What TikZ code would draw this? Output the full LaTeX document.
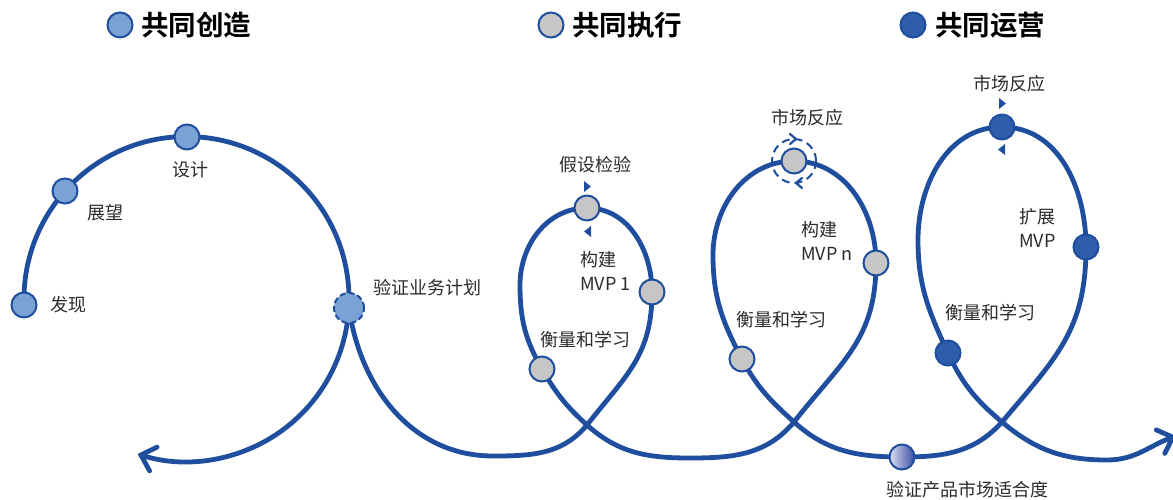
\documentclass[tikz,border=0pt]{standalone}
\usepackage{fontspec}
\setmainfont{Noto Sans CJK SC}[BoldFont={Noto Sans CJK SC Bold}]
\usetikzlibrary{arrows.meta}
\definecolor{mainblue}{HTML}{1F4E9F}
\definecolor{lightfill}{HTML}{7AA2D5}
\definecolor{grayfill}{HTML}{C6C6C6}
\definecolor{darkfill}{HTML}{2E5DAA}
\definecolor{gradL}{HTML}{DCDDF2}
\definecolor{gradR}{HTML}{3C4FA3}
\definecolor{txt}{HTML}{2B2B2B}
\begin{document}
\begin{tikzpicture}[x=1pt,y=1pt,
 curve/.style={draw=mainblue, line width=4.8pt, line cap=round},
 barb/.style={-{Straight Barb[length=13pt,width=25pt,line cap=round]}},
 dot/.style={circle, draw=mainblue, line width=2pt, minimum size=25pt, inner sep=0pt},
 dotL/.style={dot, fill=lightfill},
 dotG/.style={dot, fill=grayfill},
 dotD/.style={dot, fill=darkfill},
 lbl/.style={font=\fontsize{18}{24}\selectfont, text=txt, inner sep=0pt, anchor=west, align=left},
 ttl/.style={font=\fontsize{27.5}{30}\selectfont\bfseries, text=black, inner sep=0pt, anchor=west},
 tri/.style={fill=mainblue},
 ring/.style={draw=mainblue, line width=2pt, dash pattern=on 8pt off 5pt},
 chev/.style={draw=mainblue, line width=2.2pt, line cap=round, line join=round},
]
\useasboundingbox (0,0) rectangle (1173,-499);

% key points of the path
\coordinate (v1) at (493,-456);
\coordinate (c1) at (587,-425);
\coordinate (l1) at (520,-285);
\coordinate (v2) at (690,-458);
\coordinate (c2) at (794,-422);
\coordinate (l2) at (713,-255);
\coordinate (c3) at (1002,-422);
\coordinate (l3) at (918,-240);
\coordinate (v4) at (1107,-460);
\coordinate (endpt) at (1176,-436);

% big circle
\draw[curve, barb] (24.1,-304.7) arc[start angle=182, end angle=-107.5, radius=162.5];

% loops
\draw[curve, barb] (349,-308) to[out=-82,in=180] (v1)
 to[out=0,in=230] (c1)
 to[out=52,in=-90,looseness=1.1] (652,-292)
 to[out=90,in=0] (587,-208)
 to[out=180,in=90] (l1)
 to[out=-90,in=120] (542,-369)
 to[out=-60,in=138] (c1)
 to[out=-42,in=180] (v2)
 to[out=0,in=230] (c2)
 to[out=52,in=-90,looseness=1.1] (876,-263)
 to[out=90,in=0] (794,-161)
 to[out=180,in=90] (l2)
 to[out=-90,in=118] (742,-359)
 to[out=-62,in=138] (c2)
 to[out=-42,in=180] (902,-457)
 to[out=0,in=228] (c3)
 to[out=50,in=-90,looseness=1.1] (1086,-247)
 to[out=90,in=0] (1002,-127)
 to[out=180,in=90] (l3)
 to[out=-90,in=115] (948,-353)
 to[out=-65,in=140] (c3)
 to[out=-40,in=180] (v4)
 to[out=0,in=200] (endpt);

% legend
\node[dotL] (kA) at (120,-25) {};
\node[ttl] (tA) at (141,-25) {共同创造};
\node[dotG] (kB) at (551,-25) {};
\node[ttl] (tB) at (572,-25) {共同执行};
\node[dotD] (kC) at (913,-25) {};
\node[ttl] (tC) at (935,-25) {共同运营};

% co-create dots
\node[dotL] (fx) at (24,-305) {};
\node[dotL] (zw) at (65,-191) {};
\node[dotL] (sj) at (187,-137) {};
\node[dot, fill=lightfill, minimum size=30pt, dash pattern=on 6pt off 3pt] (yz) at (349,-308) {};

% loop 1
\node[dotG] (t1) at (587,-208) {};
\node[dotG] (m1) at (652,-292) {};
\node[dotG] (h1) at (542,-369) {};
% loop 2
\draw[ring] (794,-161) circle[radius=22];
\node[dotG] (t2) at (794,-161) {};
\node[dotG] (m2) at (876,-263) {};
\node[dotG] (h2) at (742,-359) {};
\draw[chev] (790,-134) -- (796,-139) -- (790,-144);
\draw[chev] (802,-178) -- (796,-183) -- (802,-188);
% loop 3
\node[dotD] (t3) at (1002,-127) {};
\node[dotD] (m3) at (1086,-247) {};
\node[dotD] (h3) at (948,-353) {};
% product-market fit dot
\node[dot, left color=gradL, right color=gradR] (pm) at (902,-457) {};

% rotation triangles
\fill[tri] (584,-181) -- (584,-192) -- (591,-186.5) -- cycle;
\fill[tri] (591,-226) -- (591,-237) -- (584,-231.5) -- cycle;
\fill[tri] (999,-98) -- (999,-109) -- (1006,-103.5) -- cycle;
\fill[tri] (1005,-144) -- (1005,-155) -- (998,-149.5) -- cycle;

% labels
\node[lbl] (lfx) at (50,-305) {发现};
\node[lbl] (lzw) at (87,-213) {展望};
\node[lbl] (lsj) at (172,-170) {设计};
\node[lbl] (lyz) at (373,-288) {验证业务计划};
\node[lbl] (lt1) at (559,-165) {假设检验};
\node[lbl] (lm1) at (580,-271) {构建\\MVP 1};
\node[lbl] (lh1) at (540,-340) {衡量和学习};
\node[lbl] (lt2) at (771,-118) {市场反应};
\node[lbl] (lm2) at (801,-240.5) {构建\\MVP n};
\node[lbl] (lh2) at (736,-320) {衡量和学习};
\node[lbl] (lt3) at (973,-84) {市场反应};
\node[lbl] (lm3) at (1019,-227.5) {扩展\\MVP};
\node[lbl] (lh3) at (945,-313) {衡量和学习};
\node[lbl] (lpm) at (886,-490) {验证产品市场适合度};
\end{tikzpicture}
\end{document}
